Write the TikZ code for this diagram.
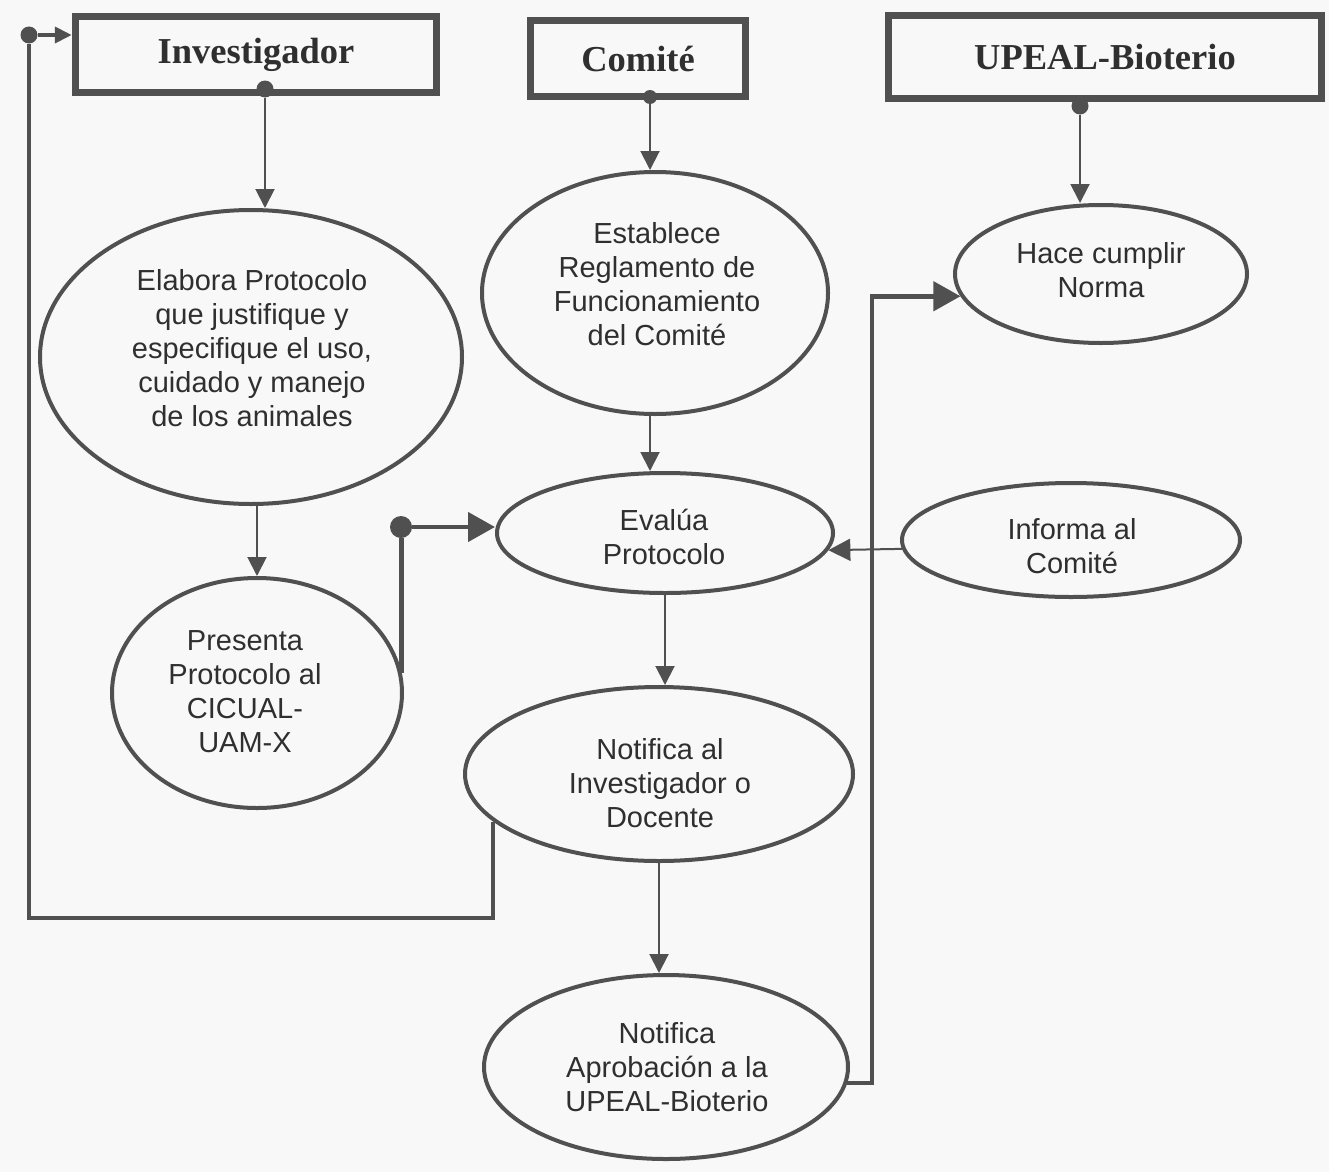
\documentclass[tikz,border=0pt]{standalone}
\usepackage{fontspec}
\setmainfont{Liberation Sans}
\newfontfamily\boxfont{Liberation Serif}
\usetikzlibrary{shapes.geometric, arrows.meta, calc}
\definecolor{ink}{HTML}{505050}
\definecolor{txt}{HTML}{2F2F2F}
\definecolor{paper}{HTML}{F8F8F8}
\begin{document}
\begin{tikzpicture}[x=1pt, y=-1pt,
  hbox/.style={draw=ink, line width=7.5pt, rectangle, inner sep=0pt, text=txt,
    font=\boxfont\bfseries\fontsize{36.5}{40}\selectfont},
  ovl/.style={draw=ink, line width=4pt, ellipse, inner sep=0pt},
  otext/.style={text=txt, align=center, inner sep=0pt, font=\fontsize{29}{34}\selectfont},
  jdot/.style={circle, fill=ink, inner sep=0pt, minimum size=#1},
  jdot/.default=17pt,
  tarr/.style={draw=ink, line width=2pt, -{Triangle[length=19pt, width=19pt]}},
  marr/.style={draw=ink, line width=2pt, -{Triangle[length=22pt, width=22pt]}},
  larr/.style={draw=ink, line width=4pt, -{Triangle[length=17pt, width=16pt]}},
  Tarr/.style={draw=ink, line width=4.5pt, -{Triangle[length=27pt, width=29pt]}},
  loopline/.style={draw=ink, line width=4pt},
]
\fill[paper] (0,0) rectangle (1329,1172);
\useasboundingbox (0,0) rectangle (1329,1172);

% header boxes
\node[hbox, minimum width=361pt, minimum height=76pt] (inv) at (256,54.5) {Investigador};
\node[hbox, minimum width=215pt, minimum height=76pt] (com) at (638,58.5) {Comité};
\node[hbox, minimum width=433pt, minimum height=83pt] (upe) at (1105,57) {UPEAL-Bioterio};

% dots
\node[jdot] (ldot) at (29,35) {};
\node[jdot] (idot) at (265,89) {};
\node[jdot=14pt] (cdot) at (650,97) {};
\node[jdot] (udot) at (1080,106) {};
\node[jdot=22pt] (pdot) at (401,527) {};

% ellipses
\node[ovl, minimum width=422pt, minimum height=294pt] (elab) at (251,357) {};
\node[otext] (elabt) at (252,348) {Elabora Protocolo\\que justifique y\\especifique el uso,\\cuidado y manejo\\de los animales};

\node[ovl, minimum width=290pt, minimum height=230pt] (pres) at (257,693) {};
\node[otext] (prest) at (245,692) {Presenta\\Protocolo al\\CICUAL-\\UAM-X};

\node[ovl, minimum width=346pt, minimum height=242pt] (estab) at (655,293) {};
\node[otext] (estabt) at (657,284) {Establece\\Reglamento de\\Funcionamiento\\del Comité};

\node[ovl, minimum width=336pt, minimum height=120pt] (eval) at (665,533) {};
\node[otext] (evalt) at (664,537) {Evalúa\\Protocolo};

\node[ovl, minimum width=388pt, minimum height=174pt] (ndoc) at (659,774) {};
\node[otext] (ndoct) at (660,783) {Notifica al\\Investigador o\\Docente};

\node[ovl, minimum width=364pt, minimum height=184pt] (napr) at (666,1067) {};
\node[otext] (naprt) at (667,1067) {Notifica\\Aprobación a la\\UPEAL-Bioterio};

\node[ovl, minimum width=292pt, minimum height=138pt] (hace) at (1101,274) {};
\node[otext] (hacet) at (1101,270) {Hace cumplir\\Norma};

\node[ovl, minimum width=338pt, minimum height=114pt] (infm) at (1071,540) {};
\node[otext] (infmt) at (1072,546) {Informa al\\Comité};

% turning points
\coordinate (lturn) at (29,918);
\coordinate (rturn) at (872,0);

% connectors
\draw[larr] (ldot) -- (inv.west |- ldot);
\draw[loopline] (ldot) -- (lturn) -| (ndoc.196);
\draw[tarr] (idot) -- (idot |- elab.north);
\draw[tarr] (pres.north |- elab.south) -- (pres.north);
\draw[draw=ink, line width=5pt] (pdot |- pres.8) -- (pdot);
\draw[Tarr] (pdot) -- (pdot -| eval.west);
\draw[tarr] (cdot) -- (cdot |- estab.north);
\draw[tarr] (cdot |- estab.south) -- (cdot |- eval.north);
\draw[tarr] (eval.south) -- (eval.south |- ndoc.north);
\draw[tarr] (ndoc.south) -- (ndoc.south |- napr.north);
\draw[Tarr] (napr.355) -| (rturn |- hace.189) -- (hace.189);
\draw[marr] (infm.183) -- (eval.354);
\draw[tarr] (udot) -- (udot |- hace.north);
\end{tikzpicture}
\end{document}
